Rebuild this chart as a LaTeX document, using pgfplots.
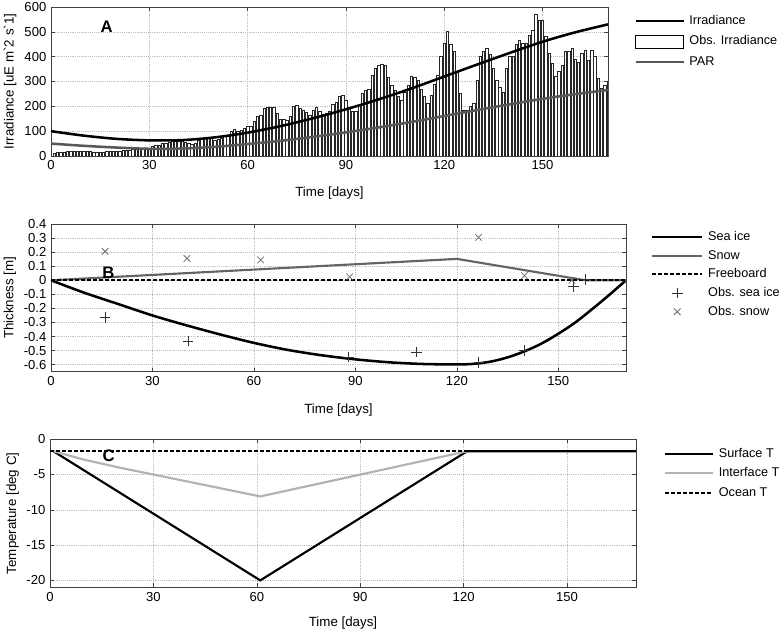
\documentclass[border=0pt]{standalone}
\usepackage{fontspec}
\setmainfont{Liberation Sans}
\usepackage{pgfplots}
\pgfplotsset{compat=1.18}
\definecolor{pargray}{RGB}{88,88,88}
\definecolor{snowgray}{RGB}{100,100,100}
\definecolor{intgray}{RGB}{178,178,178}
\definecolor{icemark}{RGB}{50,50,50}
\definecolor{snowmark}{RGB}{110,110,110}
\pgfplotsset{
  mystyle/.style={
    scale only axis,
    xmin=0, xmax=170,
    xtick={0,30,60,90,120,150},
    tick align=inside,
    major tick length=3pt,
    grid=major,
    grid style={densely dotted, black!25},
    axis line style={black!75},
    tick style={black!75, line width=0.4pt},
    every tick label/.append style={font=\fontsize{9.8}{11}\selectfont},
    /pgf/number format/assume math mode=true,
    label style={font=\fontsize{9.5}{11}\selectfont},
    xlabel={Time [days]},
    legend cell align=left,
    legend style={draw=none, fill=none, anchor=north west,
      font=\fontsize{9.5}{11}\selectfont,
      nodes={inner sep=0pt, text height=7pt, text depth=2pt},
      /tikz/every odd column/.append style={column sep=3.5pt}},
    legend image code/.code={\draw[##1] (0pt,0pt) -- (36pt,0pt);},
  },
  longimg/.style={legend image code/.code={\draw[##1] (0pt,0pt) -- (37.5pt,0pt);}},
  markimg/.style={legend image code/.code={\draw[##1] plot coordinates {(18.75pt,0pt)}; \path[draw=none] (0pt,0pt) -- (37.5pt,0pt);}},
}
\begin{document}
\begin{tikzpicture}
\useasboundingbox (0,0) rectangle (586.5pt,477pt);
% ---------------- Panel A ----------------
\begin{axis}[mystyle, at={(38.25pt,360pt)}, anchor=south west,
  width=417.75pt, height=111.75pt,
  ymin=0, ymax=600, ytick={0,100,200,300,400,500,600},
  ylabel={Irradiance [uE m\textasciigrave 2 s\textasciigrave 1]},
  every axis y label/.style={at={(axis description cs:-0.0736,0.5)}, rotate=90, anchor=center},
  every axis x label/.style={at={(axis description cs:0.5,-0.248)}, anchor=center},
  legend style={at={(axis description cs:1.0395,0.965)}, row sep=5.8pt},
]
\addplot[ybar, bar width=0.72, bar shift=0pt, fill=white, draw=black!85, line width=0.38pt, forget plot] coordinates {
(1,12) (2,14) (3,15) (4,16) (5,19) (6,20) (7,20) (8,20) (9,20) (10,19)
(11,18) (12,18) (13,17) (14,17) (15,17) (16,17) (17,18) (18,18) (19,19) (20,20)
(21,21) (22,22) (23,22) (24,25) (25,26) (26,27) (27,27) (28,27) (29,28) (30,32)
(31,38) (32,42) (33,45) (34,50) (35,52) (36,55) (37,58) (38,58) (39,60) (40,58)
(41,55) (42,52) (43,46) (44,50) (45,65) (46,67) (47,71) (48,71) (49,70) (50,65)
(51,67) (52,71) (53,78) (54,85) (55,98) (56,108) (57,98) (58,105) (59,112) (60,118)
(61,118) (62,138) (63,159) (64,165) (65,192) (66,196) (67,196) (68,196) (69,172) (70,148)
(71,148) (72,145) (73,159) (74,202) (75,206) (76,192) (77,185) (78,175) (79,165) (80,185)
(81,196) (82,179) (83,169) (84,172) (85,180) (86,210) (87,215) (88,240) (89,245) (90,226)
(91,192) (92,179) (93,180) (94,206) (95,253) (96,266) (97,270) (98,327) (99,353) (100,365)
(101,370) (102,367) (103,316) (104,286) (105,266) (106,240) (107,226) (108,255) (109,286) (110,320)
(111,316) (112,306) (113,270) (114,240) (115,212) (116,246) (117,290) (118,327) (119,400) (120,454)
(121,501) (122,448) (123,421) (124,340) (125,253) (126,185) (127,185) (128,199) (129,212) (130,306)
(131,400) (132,421) (133,434) (134,411) (135,353) (136,306) (137,277) (138,255) (139,353) (140,400)
(141,403) (142,448) (143,468) (144,454) (145,454) (146,488) (147,508) (148,569) (149,548) (150,546)
(151,481) (152,414) (153,374) (154,323) (155,340) (156,367) (157,421) (158,421) (159,434) (160,390)
(161,376) (162,414) (163,427) (164,384) (165,425) (166,400) (167,313) (168,273) (169,285) (170,300)
};
\addplot[black, line width=1.9pt, smooth] coordinates {
(0,100) (10,82) (20,69) (30,63) (40,64) (50,75) (60,94) (70,120) (80,152) (90,188)
(100,228) (110,272) (120,320) (130,368) (140,415) (150,460) (160,498) (170,530)};
\addlegendentry{Irradiance}
\addlegendimage{legend image code/.code={\draw[fill=white, draw=black, line width=0.5pt] (0pt,-4.8pt) rectangle (36pt,4.8pt);}}
\addlegendentry{Obs. Irradiance}
\addplot[pargray, line width=1.9pt, smooth] coordinates {
(0,50) (10,41) (20,34) (30,29) (40,30) (50,37) (60,48) (70,61) (80,77) (90,95)
(100,115) (110,137) (120,161) (130,185) (140,208) (150,230) (160,249) (170,266)};
\addlegendentry{PAR}
\node[font=\bfseries\fontsize{12.5}{12.5}\selectfont] at (axis cs:17,520) {A};
\end{axis}
% ---------------- Panel B ----------------
\begin{axis}[mystyle, longimg, at={(38.25pt,198.2pt)}, anchor=south west,
  width=431.25pt, height=110.8pt,
  ymin=-0.65, ymax=0.4,
  ytick={-0.6,-0.5,-0.4,-0.3,-0.2,-0.1,0,0.1,0.2,0.3,0.4},
  yticklabels={-0.6,-0.5,-0.4,-0.3,-0.2,-0.1,0,0.1,0.2,0.3,0.4},
  ylabel={Thickness [m]},
  every axis y label/.style={at={(axis description cs:-0.0713,0.5)}, rotate=90, anchor=center},
  every axis x label/.style={at={(axis description cs:0.5,-0.259)}, anchor=center},
  legend style={at={(axis description cs:1.036,0.972)}, row sep=5pt},
]
\addplot[black, line width=1.9pt, smooth] coordinates {
(0,0) (10,-0.09) (20,-0.17) (30,-0.25) (40,-0.32) (50,-0.385) (60,-0.445) (70,-0.495) (80,-0.533)
(90,-0.562) (100,-0.583) (110,-0.595) (120,-0.598) (125,-0.594) (130,-0.578) (135,-0.548) (140,-0.505)
(145,-0.45) (150,-0.38) (155,-0.30) (160,-0.205) (165,-0.105) (170,0)};
\addlegendentry{Sea ice}
\addplot[snowgray, line width=1.6pt] coordinates {(0,0) (120,0.152) (158,0) (170,0)};
\addlegendentry{Snow}
\addplot[black, line width=1.4pt, dash pattern=on 3pt off 1.5pt] coordinates {(0,0) (170,0)};
\addlegendentry{Freeboard}
\addplot[only marks, mark=+, mark size=4pt, icemark, line width=0.6pt, markimg] coordinates {
(16,-0.265) (40.5,-0.431) (88,-0.545) (108,-0.51) (126.5,-0.585) (140,-0.498) (154.5,-0.042) (158,0.006)};
\addlegendentry{Obs. sea ice}
\addplot[only marks, mark=x, mark size=3.5pt, snowmark, line width=0.6pt, markimg] coordinates {
(16,0.205) (40.2,0.155) (62,0.145) (88.3,0.025) (107.5,0.405) (126.4,0.305) (140,0.033) (154,0.0)};
\addlegendentry{Obs. snow}
\node[font=\bfseries\fontsize{12.5}{12.5}\selectfont] at (axis cs:17,0.05) {B};
\end{axis}
% ---------------- Panel C ----------------
\begin{axis}[mystyle, at={(37.5pt,36.4pt)}, anchor=south west,
  width=439.5pt, height=111.15pt,
  ymin=-21, ymax=0, ytick={-20,-15,-10,-5,0},
  ylabel={Temperature [deg C]},
  every axis y label/.style={at={(axis description cs:-0.0637,0.5)}, rotate=90, anchor=center},
  every axis x label/.style={at={(axis description cs:0.5,-0.24)}, anchor=center},
  legend style={at={(axis description cs:1.0406,0.962)}, row sep=5.6pt},
]
\addplot[black, line width=1.6pt] coordinates {(1,-1.7) (61,-20) (121,-1.7) (170,-1.7)};
\addlegendentry{Surface T}
\addplot[intgray, line width=1.6pt] coordinates {
(1,-1.7) (10,-2.9) (20,-4.0) (30,-5.0) (40,-6.0) (50,-7.0) (61,-8.1) (121,-1.7)};
\addlegendentry{Interface T}
\addplot[black, line width=1.4pt, dash pattern=on 3pt off 1.5pt] coordinates {(0,-1.7) (159,-1.7)};
\addlegendentry{Ocean T}
\node[font=\bfseries\fontsize{12.5}{12.5}\selectfont] at (axis cs:17,-2.3) {C};
\end{axis}
\end{tikzpicture}
\end{document}
